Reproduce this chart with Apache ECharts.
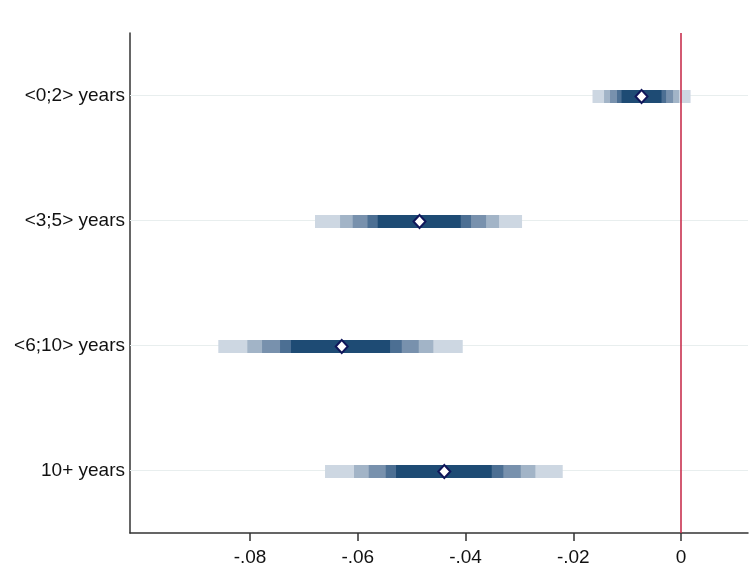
<!DOCTYPE html>
<html>
<head>
<meta charset="utf-8">
<title>coefplot</title>
<script src="https://cdn.jsdelivr.net/npm/echarts@6/dist/echarts.min.js"></script>
<style>
  html, body { margin: 0; padding: 0; background: #fff; }
  #chart { width: 755px; height: 586px; }
</style>
</head>
<body>
<div id="chart"></div>
<script>
// categories (top to bottom) and point estimates
const categories = ['<0;2> years', '<3;5> years', '<6;10> years', '10+ years'];
const estimates = [-0.00733, -0.04854, -0.06298, -0.04394];

// confidence bounds per level, one value per category
const levels = [99, 95, 90, 80, 70];
const lowBounds = [
  [-0.01643, -0.06794, -0.08589, -0.06608],
  [-0.01429, -0.06329, -0.08050, -0.06070],
  [-0.01318, -0.06094, -0.07777, -0.05797],
  [-0.01188, -0.05819, -0.07443, -0.05481],
  [-0.01104, -0.05630, -0.07239, -0.05290]
];
const highBounds = [
  [0.00177, -0.02951, -0.04052, -0.02196],
  [-0.00037, -0.03378, -0.04598, -0.02704],
  [-0.00148, -0.03619, -0.04869, -0.02975],
  [-0.00278, -0.03898, -0.05184, -0.03298],
  [-0.00362, -0.04089, -0.05401, -0.03514]
];
const xTicks = [-0.08, -0.06, -0.04, -0.02, 0];

// lightest (widest) to darkest (narrowest)
const levelColors = ['#cdd7e2', '#a2b4c7', '#7891ad', '#4c6f93', '#1e4b74'];

const chart = echarts.init(document.getElementById('chart'));

const bandData = [];
levels.forEach((lv, li) => {
  categories.forEach((c, ci) => {
    bandData.push([lowBounds[li][ci], highBounds[li][ci], ci, li]);
  });
});

function renderBand(params, api) {
  const start = api.coord([api.value(0), api.value(2)]);
  const end = api.coord([api.value(1), api.value(2)]);
  const h = 13;
  return {
    type: 'rect',
    shape: { x: start[0], y: start[1] - h / 2 + 1, width: end[0] - start[0], height: h },
    style: { fill: levelColors[api.value(3)] }
  };
}

const fmt = (v) => {
  if (Math.abs(v) < 1e-9) return '0';
  return (v < 0 ? '-' : '') + Math.abs(v).toFixed(2).replace(/^0/, '');
};

const font = 'Liberation Sans, Arial, sans-serif';

const option = {
  animation: false,
  grid: { left: 130, right: 7, top: 33, bottom: 53 },
  xAxis: {
    type: 'value',
    min: -0.10228,
    max: 0.01243,
    splitLine: { show: false },
    axisLine: { show: true, lineStyle: { color: '#333', width: 1.5 } },
    axisTick: { show: true, length: 8, lineStyle: { color: '#333', width: 1.5 }, customValues: xTicks },
    axisLabel: {
      customValues: xTicks,
      formatter: fmt,
      color: '#111',
      fontSize: 19,
      fontFamily: font,
      margin: 15
    }
  },
  yAxis: {
    type: 'category',
    data: categories,
    inverse: true,
    axisLine: { show: true, onZero: false, lineStyle: { color: '#333', width: 1.5 } },
    axisTick: { show: false },
    splitLine: { show: false },
    axisLabel: {
      color: '#111',
      fontSize: 19,
      fontFamily: font,
      margin: 5,
      padding: [2, 0, 0, 0]
    }
  },
  series: [
    {
      name: 'grid',
      type: 'line',
      data: [],
      z: 1,
      silent: true,
      markLine: {
        z: 1,
        silent: true,
        symbol: 'none',
        label: { show: false },
        lineStyle: { color: '#e8eeee', width: 1.2, type: 'solid' },
        data: categories.map((c) => ({ yAxis: c }))
      }
    },
    {
      name: 'ci',
      type: 'custom',
      z: 2,
      renderItem: renderBand,
      encode: { x: [0, 1], y: 2 },
      data: bandData
    },
    {
      name: 'zero',
      type: 'line',
      data: [],
      z: 3,
      silent: true,
      markLine: {
        z: 3,
        silent: true,
        symbol: 'none',
        label: { show: false },
        lineStyle: { color: '#c8304f', width: 1.6, type: 'solid' },
        data: [{ xAxis: 0 }]
      }
    },
    {
      name: 'estimate',
      type: 'scatter',
      z: 10,
      symbol: 'diamond',
      symbolSize: [12, 13],
      symbolOffset: [0, 1],
      itemStyle: { color: '#ffffff', borderColor: '#10165a', borderWidth: 2, opacity: 1 },
      data: estimates.map((v, i) => [v, i])
    }
  ]
};

chart.setOption(option);
</script>
</body>
</html>
